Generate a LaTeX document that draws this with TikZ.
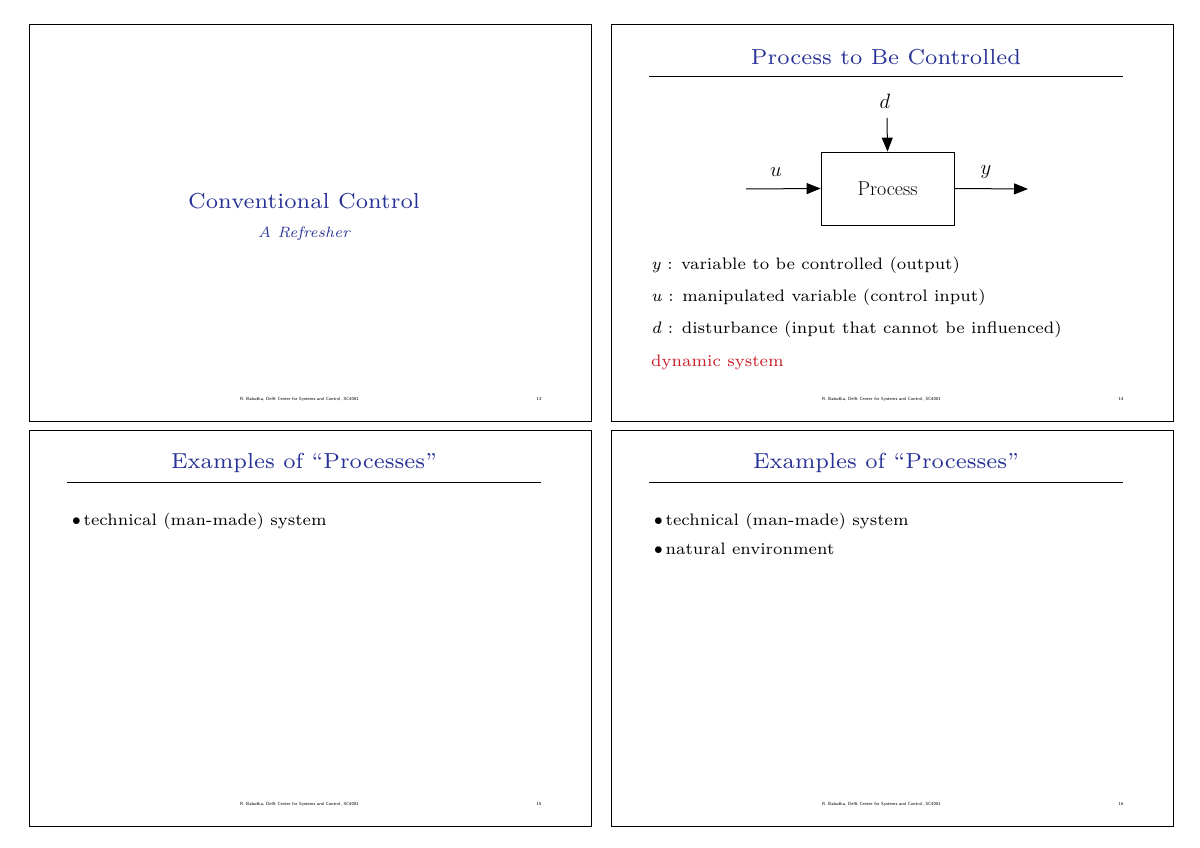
\documentclass[tikz,border=0pt]{standalone}
\usepackage{fontspec}
\newfontfamily\slidefont{lmroman7}[Extension=.otf,Ligatures=TeX,UprightFont=*-regular,ItalicFont=*-italic,BoldFont=*-bold]
\usetikzlibrary{arrows.meta}
\definecolor{ttl}{RGB}{40,50,150}
\definecolor{redt}{RGB}{200,30,40}
\newcommand{\vv}[1]{\textit{#1}}
\begin{document}
\begin{tikzpicture}[x=1pt,y=-1pt,
 panel/.style={draw,line width=0.8pt},
 ttlf/.style={text=ttl,font=\slidefont\fontsize{21.7}{26}\selectfont},
 body/.style={anchor=west,font=\slidefont\fontsize{16.6}{20}\selectfont,inner sep=0},
 foot/.style={font=\sffamily\fontsize{4.5}{5}\selectfont,inner sep=0},
 rulel/.style={line width=1pt},
 arr/.style={-{Triangle[length=14pt,width=11pt]},line width=1pt}]
\useasboundingbox (0,0) rectangle (1200,848);
\fill[white] (0,0) rectangle (1200,848);
\draw[panel] (29,24) rectangle (591,421);
\draw[panel] (611,24) rectangle (1173,421);
\draw[panel] (29,430) rectangle (591,826);
\draw[panel] (611,430) rectangle (1173,826);
% slide 13
\node[ttlf] (t1) at (304,201) {Conventional Control};
\node[text=ttl,font=\slidefont\fontsize{15}{18}\selectfont\itshape] (s1) at (304,234) {A Refresher};
% slide 14
\node[ttlf] (t2) at (886,57) {Process to Be Controlled};
\draw[rulel] (649,77) -- (1123,77);
\node[draw,line width=0.8pt,minimum width=133pt,minimum height=73pt,font=\fontsize{20}{24}\selectfont] (p) at (887.5,188.5) {Process};
\coordinate (ui) at (746,189);
\coordinate (yo) at (1028,189);
\coordinate (di) at (887,118);
\draw[arr] (ui) -- (p.west);
\draw[arr] (p.east) -- (yo);
\draw[arr] (di) -- (p.north);
\node[font=\fontsize{20}{24}\selectfont] (lu) at (776,172) {$u$};
\node[font=\fontsize{20}{24}\selectfont] (ly) at (986,172) {$y$};
\node[font=\fontsize{20}{24}\selectfont] (ld) at (885,101) {$d$};
\node[body] (b1) at (651,265) {\vv{y} : variable to be controlled (output)};
\node[body] (b2) at (651,297) {\vv{u} : manipulated variable (control input)};
\node[body] (b3) at (651,329) {\vv{d} : disturbance (input that cannot be influenced)};
\node[body,text=redt] (b4) at (651,362) {dynamic system};
% slide 15
\node[ttlf] (t3) at (304,463) {Examples of ``Processes''};
\draw[rulel] (67,482) -- (541,482);
\node[body] (c1) at (72,521) {$\bullet$\,technical (man-made) system};
% slide 16
\node[ttlf] (t4) at (886,463) {Examples of ``Processes''};
\draw[rulel] (649,482) -- (1123,482);
\node[body] (e1) at (654,521) {$\bullet$\,technical (man-made) system};
\node[body] (e2) at (654,549) {$\bullet$\,natural environment};
% footers
\foreach \x/\y/\n in {0/0/13,582/0/14,0/405/15,582/405/16}{
 \node[foot,anchor=west] at (240+\x,399+\y) {R. Babu\v{s}ka, Delft Center for Systems and Control, SC4081};
 \node[foot] at (539+\x,399+\y) {\n};
}
\end{tikzpicture}
\end{document}
